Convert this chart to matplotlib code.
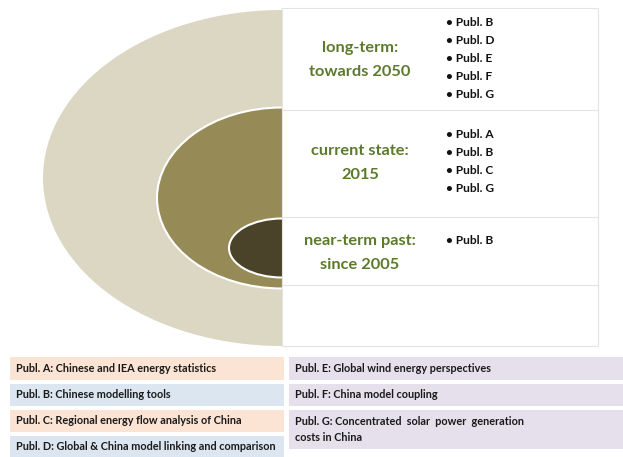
import matplotlib.pyplot as plt
from matplotlib.patches import Ellipse, Rectangle

# time horizons (top to bottom) and the publications covering them
horizons = ["long-term:\ntowards 2050", "current state:\n2015", "near-term past:\nsince 2005"]
horizon_pubs = [["B", "D", "E", "F", "G"], ["A", "B", "C", "G"], ["B"]]

# legend entries
left_keys = ["A", "B", "C", "D"]
left_texts = ["Chinese and IEA energy statistics", "Chinese modelling tools",
              "Regional energy flow analysis of China",
              "Global & China model linking and comparison"]
right_keys = ["E", "F", "G"]
right_texts = ["Global wind energy perspectives", "China model coupling",
               "Concentrated  solar  power  generation\ncosts in China"]

ring_colors = ["#dbd7c3", "#968b56", "#4a432a"]
green = "#5c7a2c"
peach = "#fce4d4"
blue = "#dce6f0"
lilac = "#e5e0ec"

plt.rcParams['font.family'] = ['Lato', 'DejaVu Sans']

fig = plt.figure(figsize=(6.23, 4.57), dpi=100)
ax = fig.add_axes([0, 0, 1, 1])
ax.set_xlim(0, 623)
ax.set_ylim(457, 0)
ax.axis('off')

# nested half ellipses (center on the panel's left edge)
cx = 282
ax.add_patch(Ellipse((cx, 178), 478, 336, fc=ring_colors[0], ec='none'))
ax.add_patch(Ellipse((cx, 198), 250, 181, fc=ring_colors[1], ec='white', lw=1.5))
ax.add_patch(Ellipse((cx, 248), 106, 59, fc=ring_colors[2], ec='white', lw=1.5))

# white panel on the right
px0, px1 = 282, 598
rows = [8, 110, 217, 285, 346]
ax.add_patch(Rectangle((px0, rows[0]), px1 - px0, rows[-1] - rows[0],
                       fc='white', ec='#e4e4e4', lw=0.8, zorder=3))
for y in rows[1:-1]:
    ax.plot([px0, px1], [y, y], color='#e4e4e4', lw=0.8, zorder=4)

title_y = [60, 163, 253]
bullet_top = [23, 135, 241]
for i, label in enumerate(horizons):
    ax.text(360, title_y[i], label, ha='center', va='center', color=green,
            fontsize=11.8, fontweight='bold', linespacing=1.85, zorder=5)
    for j, p in enumerate(horizon_pubs[i]):
        ax.text(446, bullet_top[i] + 18 * j, "\u2022 Publ. " + p, ha='left', va='center',
                color='#111111', fontsize=8.6, fontweight='bold', zorder=5)

# legend boxes
left_rows = [(357, 380), (384, 406), (410, 432), (436, 457)]
left_cols = [peach, blue, peach, blue]
for (y0, y1), k, t, c in zip(left_rows, left_keys, left_texts, left_cols):
    ax.add_patch(Rectangle((10, y0), 274, y1 - y0, fc=c, ec='none'))
    ax.text(16, (y0 + y1) / 2, f"Publ. {k}: {t}", ha='left', va='center',
            fontsize=7.8, fontweight='bold', color='#1a1a1a')

right_rows = [(357, 380), (384, 406), (410, 449)]
for (y0, y1), k, t in zip(right_rows, right_keys, right_texts):
    ax.add_patch(Rectangle((289, y0), 334, y1 - y0, fc=lilac, ec='none'))
    ax.text(295, (y0 + y1) / 2, f"Publ. {k}: {t}", ha='left', va='center',
            fontsize=7.8, fontweight='bold', color='#1a1a1a', linespacing=1.6)

fig.savefig("out.png", dpi=100)
